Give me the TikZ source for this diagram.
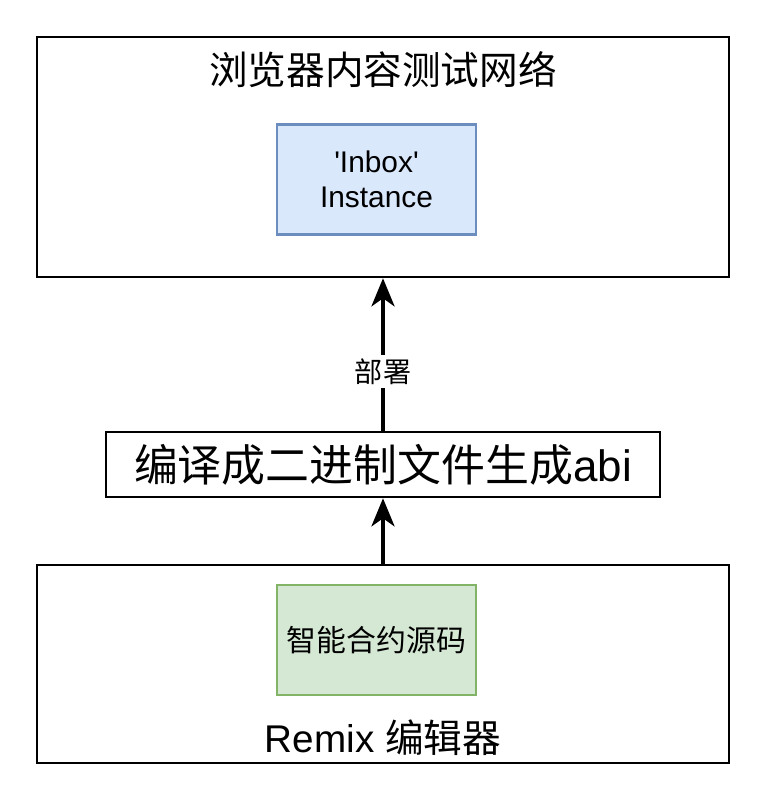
\documentclass[tikz,border=0pt]{standalone}
\usepackage{fontspec}
\setmainfont{Liberation Sans}
\newfontfamily\plainfont{Liberation Sans}
\newfontfamily\cjk{Noto Sans CJK SC}
\usetikzlibrary{arrows.meta,positioning}
\definecolor{blueFill}{HTML}{DAE8FC}
\definecolor{blueLine}{HTML}{6C8EBF}
\definecolor{greenFill}{HTML}{D5E8D4}
\definecolor{greenLine}{HTML}{82B366}
\begin{document}
\begin{tikzpicture}[x=0.02cm, y=-0.02cm,
  outerbox/.style={draw, line width=1.5pt, minimum width=13.84cm},
  innerbox/.style={draw, line width=1.6pt, minimum width=3.98cm, minimum height=2.2cm, align=center, font=\plainfont\fontsize{17}{20}\selectfont},
  uparrow/.style={-{Stealth[length=5.6mm, width=4.6mm, inset=1.6mm]}, line width=2.3pt}]
\useasboundingbox (0,0) rectangle (770,808);
\node[outerbox, minimum height=4.8cm] (net) at (383,157) {};
\node[font=\cjk\fontsize{22}{26}\selectfont] (netlabel) at (383,70) {浏览器内容测试网络};
\node[innerbox, fill=blueFill, draw=blueLine] (inbox) at (376.5,179.5) {'Inbox'\\Instance};
\node[outerbox, minimum width=11.08cm, minimum height=1.3cm, font=\fontsize{25}{30}\selectfont] (compile) at (383,464.5) {{\cjk 编译成二进制文件生成}abi};
\node[outerbox, minimum height=3.96cm] (remix) at (383,664) {};
\node[innerbox, fill=greenFill, draw=greenLine, font=\cjk\fontsize{17}{20}\selectfont] (source) at (376.5,640) {智能合约源码};
\node[font=\fontsize{22}{26}\selectfont] (remixlabel) at (383,738) {Remix {\cjk 编辑器}};

\draw[uparrow] (compile) -- node[pos=0.39, fill=white, inner sep=2pt, font=\cjk\fontsize{16}{19}\selectfont] (deploy) {部署} (net);
\draw[uparrow] (remix) -- (compile);
\end{tikzpicture}
\end{document}
